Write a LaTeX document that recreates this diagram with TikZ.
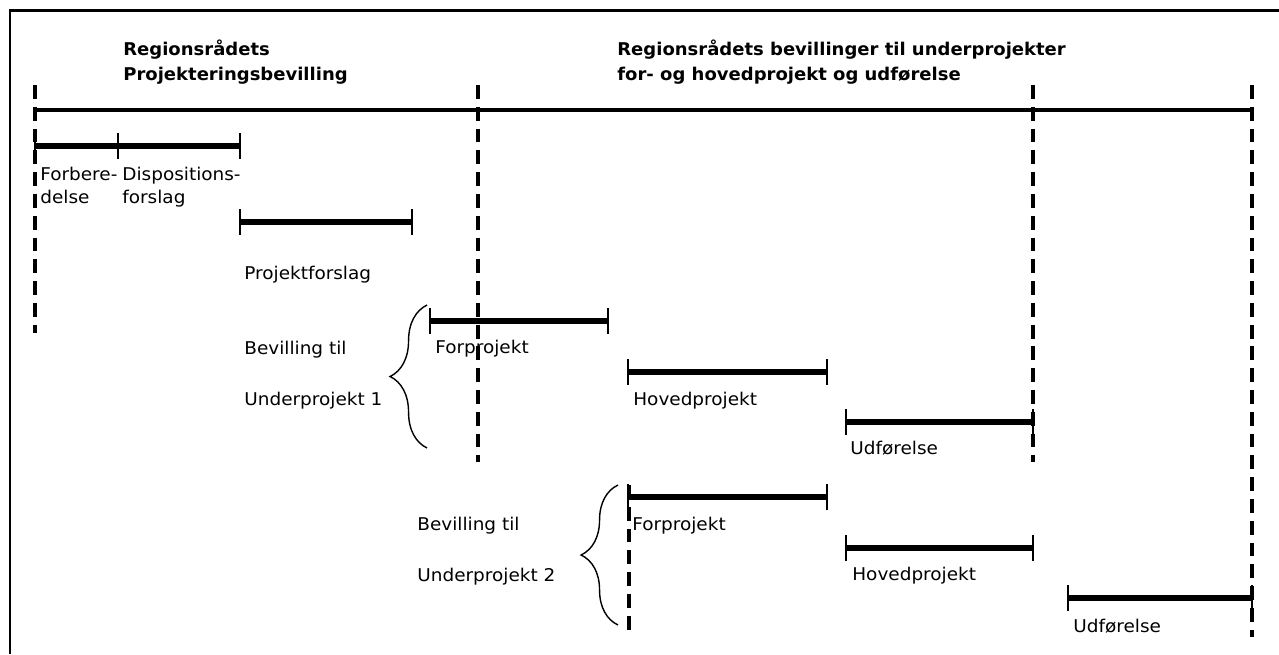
\documentclass[tikz,border=0pt]{standalone}
\usepackage{fontspec}
\setmainfont{DejaVu Sans}[FakeStretch=1.05,BoldFeatures={FakeStretch=1.025}]
\usetikzlibrary{positioning,decorations.pathreplacing}
\tikzset{fase/.style={line width=3.7pt},
  kant/.style={line width=1.4pt},
  tidslinje/.style={line width=2.5pt},
  skillelinje/.style={line width=2.3pt,dash pattern=on 7.9pt off 4.5pt},
  tekst/.style={anchor=base west,inner sep=0pt,font=\fontsize{10}{13}\selectfont,align=left},
  titel/.style={tekst,font=\bfseries\fontsize{10}{14.2}\selectfont},
  klamme/.style={decorate,decoration={brace,amplitude=21pt},line width=0.8pt}}

\begin{document}
\begin{tikzpicture}[x=0.02cm,y=-0.02cm] % 1 单位 = 1 像素
    \useasboundingbox (0,0) rectangle (1279,654);
    \draw[line width=1.7pt] (10,654)--(10,10)--(1279,10); % 边框
    \node[titel] (hoved1) at (123,80) {Regionsrådets\\Projekteringsbevilling};
    \node[titel] (hoved2) at (617,80) {Regionsrådets bevillinger til underprojekter\\for- og hovedprojekt og udførelse};
    \draw[tidslinje] (35,110)--(1252,110); % 时间轴
    \foreach \a/\b/\y in {35/118/146, 118/240/146, 240/412/222, 430/608/321, 628/827/372,
        846/1033/422, 628/827/497, 846/1033/548, 1068/1252/598}{
        \draw[fase] (\a,\y)--(\b,\y);
        \draw[kant] (\a,\y-13)--(\a,\y+13) (\b,\y-13)--(\b,\y+13);
    }
    \draw[skillelinje] (35,85)--(35,333);
    \draw[skillelinje] (478,85)--(478,462);
    \draw[skillelinje] (1033,85)--(1033,462);
    \draw[skillelinje] (1252,85)--(1252,637);
    \draw[skillelinje] (629,485)--(629,637);
    \node[tekst] (forb) at (40,203) {Forbere-\\delse};
    \node[tekst] (disp) at (122,203) {Dispositions-\\forslag};
    \node[tekst] (projf) at (244,279) {Projektforslag};
    \node[tekst] (bev1) at (244,405) {Bevilling til\\[16pt]Underprojekt 1};
    \node[tekst] (forp1) at (435,353) {Forprojekt};
    \node[tekst] (hovp1) at (633,405) {Hovedprojekt};
    \node[tekst] (udf1) at (850,454) {Udførelse};
    \node[tekst] (bev2) at (417,581) {Bevilling til\\[16pt]Underprojekt 2};
    \node[tekst] (forp2) at (632,530) {Forprojekt};
    \node[tekst] (hovp2) at (852,580) {Hovedprojekt};
    \node[tekst] (udf2) at (1073,632) {Udførelse};
    \draw[klamme] (427,448)--(427,305); % 大括号
    \draw[klamme] (618,625)--(618,485);
\end{tikzpicture}
\end{document}
